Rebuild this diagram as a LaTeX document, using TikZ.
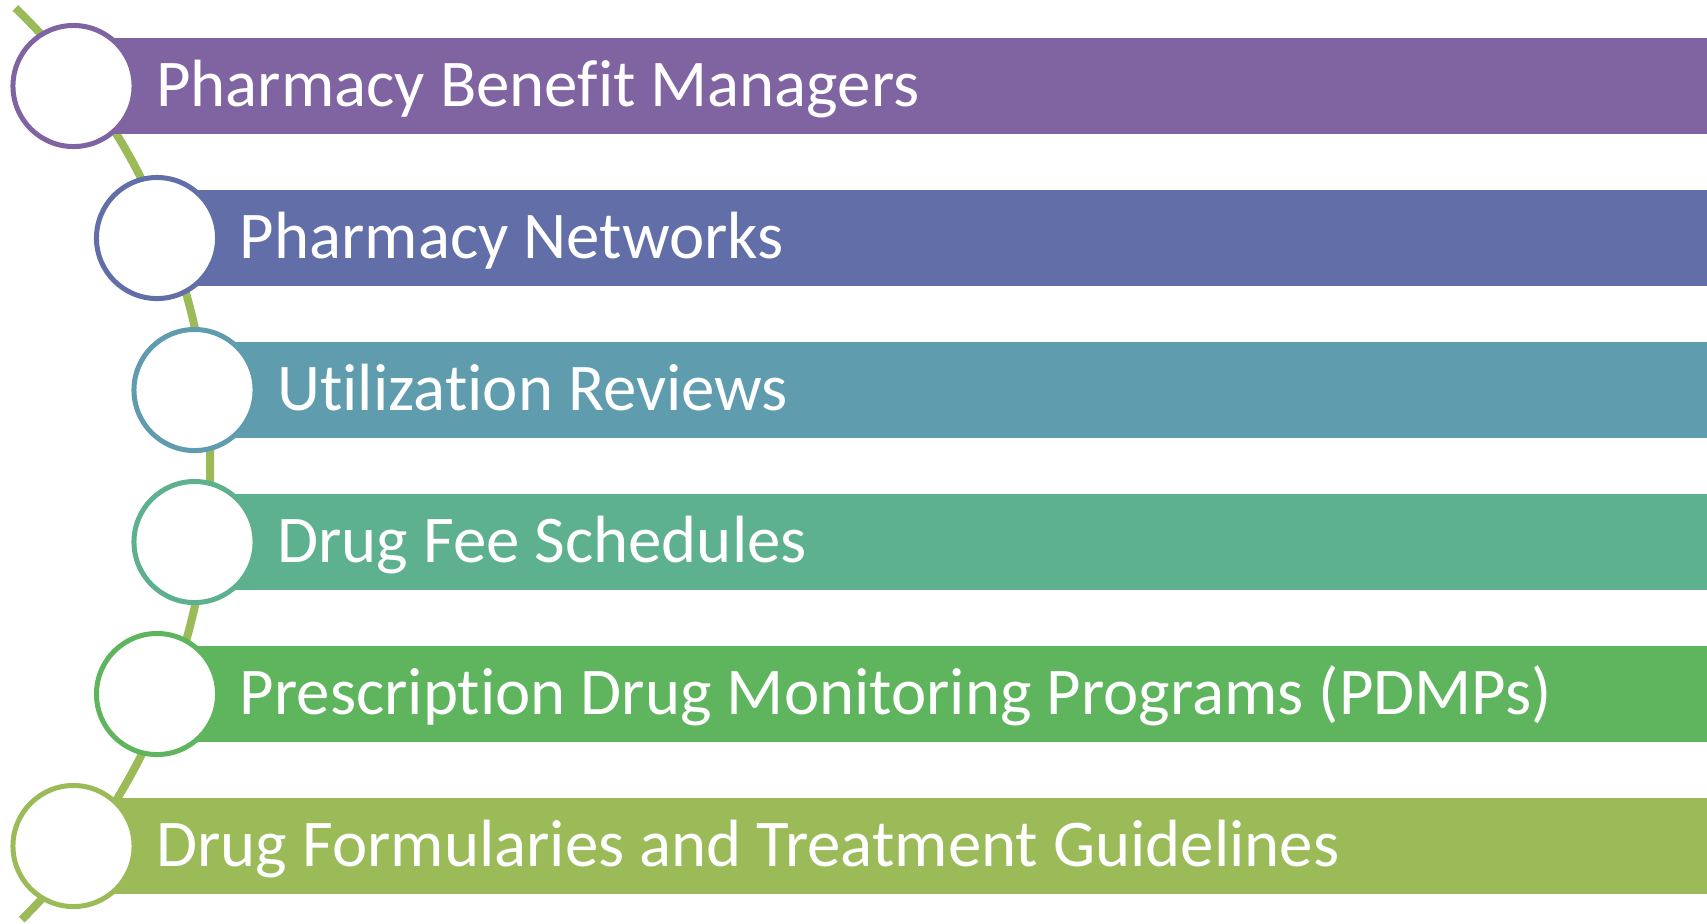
\documentclass[tikz,border=0pt]{standalone}
\usepackage{fontspec}
\setmainfont[Ligatures=NoCommon]{Carlito}
\usepackage{xcolor}
\usetikzlibrary{positioning}
\definecolor{rowA}{HTML}{8064A2}
\definecolor{rowB}{HTML}{616EA8}
\definecolor{rowC}{HTML}{5F9CAE}
\definecolor{rowD}{HTML}{5DB18E}
\definecolor{rowE}{HTML}{5EB55D}
\definecolor{rowF}{HTML}{9BBB59}
\begin{document}
\begin{tikzpicture}[x=0.01cm, y=0.01cm, node distance=0.19cm,
    bar/.style={rectangle, anchor=west, minimum height=0.96cm, inner sep=0, draw=none},
    ring/.style={circle, fill=white, line width=0.05cm, minimum size=1.21cm, inner sep=0},
    item/.style={text=white, inner sep=0, text height=0.5cm, text depth=0.1cm,
        font=\fontsize{19}{23}\selectfont}]
    \useasboundingbox (0,0) rectangle (1707,-923);
    \coordinate (top) at (15.4,-8.0);
    \draw[rowF, line width=0.08cm] (top) arc[start angle=46, end angle=-45.2, radius=638];
    \node (barA) [bar, fill=rowA, minimum width=16.34cm] at (73.5,-86) {};
    \node (barB) [bar, fill=rowB, minimum width=15.50cm] at (157,-238) {};
    \node (barC) [bar, fill=rowC, minimum width=15.12cm] at (194.5,-390) {};
    \node (barD) [bar, fill=rowD, minimum width=15.12cm] at (194.5,-542) {};
    \node (barE) [bar, fill=rowE, minimum width=15.50cm] at (157,-694) {};
    \node (barF) [bar, fill=rowF, minimum width=16.34cm] at (73.5,-846) {};
    \node (A) [ring, draw=rowA] at (73.5,-86) {};
    \node (B) [ring, draw=rowB] at (157,-238) {};
    \node (C) [ring, draw=rowC] at (194.5,-390) {};
    \node (D) [ring, draw=rowD] at (194.5,-542) {};
    \node (E) [ring, draw=rowE] at (157,-694) {};
    \node (F) [ring, draw=rowF] at (73.5,-846) {};
    \node (tA) [item, right=of A] {Pharmacy Benefit Managers};
    \node (tB) [item, right=of B] {Pharmacy Networks};
    \node (tC) [item, right=of C] {Utilization Reviews};
    \node (tD) [item, right=of D] {Drug Fee Schedules};
    \node (tE) [item, right=of E] {Prescription Drug Monitoring Programs (PDMPs)};
    \node (tF) [item, right=of F] {Drug Formularies and Treatment Guidelines};
\end{tikzpicture}
\end{document}
